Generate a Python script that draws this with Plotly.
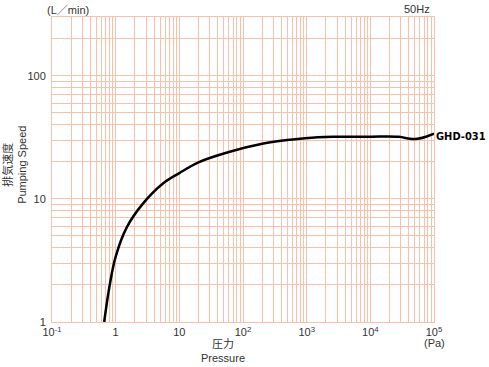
import plotly.graph_objects as go
import numpy as np

# Pressure (Pa) and pumping speed (L/min)
pressure = [0.66, 0.8, 1.0, 1.5, 2.7, 5.6, 10, 20, 60, 200, 550, 1500, 3000, 10000, 28000, 42000, 55000, 75000, 100000]
speed = [1.0, 1.95, 3.4, 5.9, 9.2, 13.4, 16.2, 19.8, 24.0, 28.0, 30.2, 31.7, 32.0, 32.0, 31.9, 30.8, 30.8, 32.0, 33.8]

x_tickvals = [0.1, 1, 10, 100, 1000, 10000, 100000]
x_ticktext = ["10<sup>-1</sup>", "1", "10", "10<sup>2</sup>", "10<sup>3</sup>", "10<sup>4</sup>", "10<sup>5</sup>"]
y_tickvals = [1, 10, 100]
y_ticktext = ["1", "10", "100"]

grid = "rgb(249,192,170)"
txt = "#333333"
font = "Liberation Sans, Noto Sans CJK JP, sans-serif"

x_minor = [m * 10.0 ** e for e in range(-1, 5) for m in range(2, 10)]
y_minor = [m * 10.0 ** e for e in range(0, 3) for m in range(2, 10) if m * 10.0 ** e <= 300]

fig = go.Figure()
fig.add_trace(go.Scatter(x=pressure, y=speed, mode="lines",
                         line=dict(color="black", width=2.5, shape="spline", smoothing=1.0),
                         hoverinfo="skip", showlegend=False))

fig.update_xaxes(type="log", range=[-1, 5], tickvals=x_tickvals, ticktext=x_ticktext,
                 showgrid=True, gridcolor=grid, gridwidth=1,
                 minor=dict(tickvals=x_minor, showgrid=True, gridcolor=grid, gridwidth=1, ticks=""),
                 showline=True, linecolor=grid, linewidth=1, mirror=True,
                 ticks="", zeroline=False, tickfont=dict(size=11, color=txt, family=font))
fig.update_yaxes(type="log", range=[0, np.log10(300)], tickvals=y_tickvals, ticktext=y_ticktext,
                 showgrid=True, gridcolor=grid, gridwidth=1,
                 minor=dict(tickvals=y_minor, showgrid=True, gridcolor=grid, gridwidth=1, ticks=""),
                 showline=True, linecolor=grid, linewidth=1, mirror=True, ticklabelstandoff=3,
                 ticks="", zeroline=False, tickfont=dict(size=11, color=txt, family=font))

ann = dict(showarrow=False, xref="paper", yref="paper", font=dict(size=11, color=txt, family=font))
fig.add_annotation(text="(L／min)", x=0.043, y=1.023, xanchor="center", yanchor="middle", **ann)
fig.add_annotation(text="50Hz", x=0.995, y=1.026, xanchor="right", yanchor="middle", **ann)
fig.add_annotation(text="(Pa)", x=1.0, y=-0.069, xanchor="center", yanchor="middle", **ann)
fig.add_annotation(text="圧力<br>Pressure", x=0.448, y=-0.095, xanchor="center", yanchor="middle", **ann)
fig.add_annotation(text="排気速度<br>Pumping Speed", x=-0.097, y=0.515, xanchor="center", yanchor="middle",
                   textangle=-90, **ann)
fig.add_annotation(text="<b>GHD-031</b>", x=1.0, y=0.608, xanchor="left", yanchor="middle",
                   showarrow=False, xref="paper", yref="paper",
                   font=dict(size=11, color="black", family="DejaVu Sans Condensed, Liberation Sans, sans-serif"))

fig.update_layout(width=489, height=367, margin=dict(l=52, r=55, t=17, b=45),
                  paper_bgcolor="white", plot_bgcolor="white", showlegend=False,
                  font=dict(family=font, color=txt, size=11))
fig.write_html("out.html", config={"displayModeBar": False},
               post_script="document.body.style.margin='0';document.body.style.overflow='hidden';")
